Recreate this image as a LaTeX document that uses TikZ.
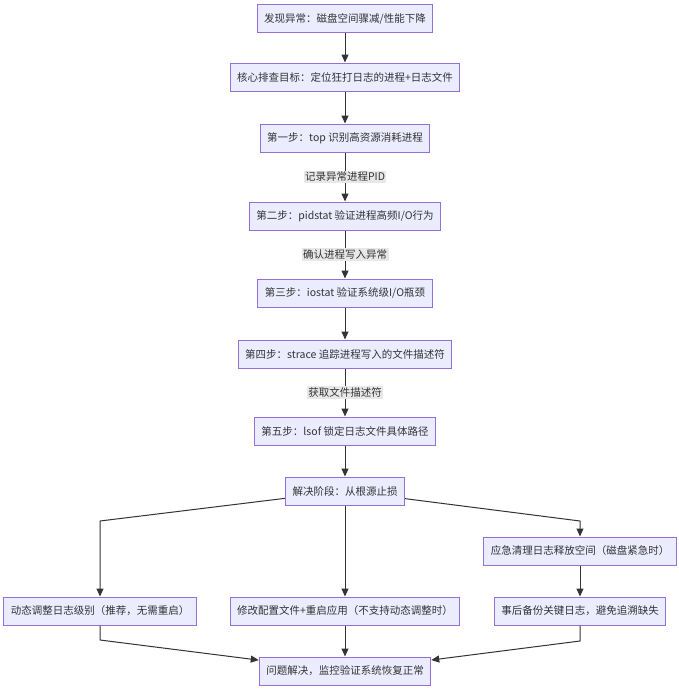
\documentclass[tikz,border=0pt]{standalone}
\usepackage{fontspec}
\setmainfont{Noto Sans CJK SC}
\usepackage{tikz}
\usetikzlibrary{arrows.meta,positioning,calc}
\usepackage{xcolor}
\definecolor{BoxFill}{HTML}{ECECFF}
\definecolor{BoxLine}{HTML}{9370DB}
\definecolor{EdgeGray}{HTML}{333333}
\definecolor{LabelBack}{HTML}{E8E8E8}

\begin{document}
\begin{tikzpicture}[x=1pt,y=-1pt,>={Triangle[length=8pt,width=7pt]},
  stepbox/.style={draw=BoxLine,fill=BoxFill,line width=1pt,minimum height=28pt,
      inner xsep=7pt,inner ysep=0pt,font=\fontsize{10.5}{12}\selectfont,text=EdgeGray},
  flow/.style={->,draw=EdgeGray,line width=1pt},
  edgelabel/.style={fill=LabelBack,inner sep=1.5pt,font=\fontsize{10.5}{12}\selectfont,text=EdgeGray}]
\useasboundingbox (0,0) rectangle (679,691);

% main chain
\node[stepbox] (found)   at (345,18.5) {发现异常：磁盘空间骤减/性能下降};
\node[stepbox] (goal)    at (345,77)   {核心排查目标：定位狂打日志的进程+日志文件};
\node[stepbox] (top)     at (345,138)  {第一步：top 识别高资源消耗进程};
\node[stepbox] (pidstat) at (345,216)  {第二步：pidstat 验证进程高频I/O行为};
\node[stepbox] (iostat)  at (345,293)  {第三步：iostat 验证系统级I/O瓶颈};
\node[stepbox] (strace)  at (345,354)  {第四步：strace 追踪进程写入的文件描述符};
\node[stepbox] (lsof)    at (345,431)  {第五步：lsof 锁定日志文件具体路径};
\node[stepbox] (decide)  at (345,491)  {解决阶段：从根源止损};

% fixes
\node[stepbox] (clean)   at (580,551)  {应急清理日志释放空间（磁盘紧急时）};
\node[stepbox] (dynlvl)  at (100,611)  {动态调整日志级别（推荐，无需重启）};
\node[stepbox] (restart) at (345,611)  {修改配置文件+重启应用（不支持动态调整时）};
\node[stepbox] (backup)  at (580,611)  {事后备份关键日志，避免追溯缺失};
\node[stepbox] (done)    at (345,671)  {问题解决，监控验证系统恢复正常};

\coordinate (bendL) at (100,521);
\coordinate (bendR) at (580,521);
\coordinate (joinL) at (100,640);
\coordinate (joinR) at (580,641);

\draw[flow] (found) -- (goal);
\draw[flow] (goal) -- (top);
\draw[flow] (top) -- node[edgelabel] {记录异常进程PID} (pidstat);
\draw[flow] (pidstat) -- node[edgelabel] {确认进程写入异常} (iostat);
\draw[flow] (iostat) -- (strace);
\draw[flow] (strace) -- node[edgelabel] {获取文件描述符} (lsof);
\draw[flow] (lsof) -- (decide);

\draw[flow] (decide) -- (bendL) -- (dynlvl);
\draw[flow] (decide) -- (restart);
\draw[flow] (decide) -- (bendR) -- (clean);
\draw[flow] (clean) -- (backup);

\draw[flow] (dynlvl) -- (joinL) -- (done);
\draw[flow] (restart) -- (done);
\draw[flow] (backup) -- (joinR) -- (done);
\end{tikzpicture}
\end{document}
